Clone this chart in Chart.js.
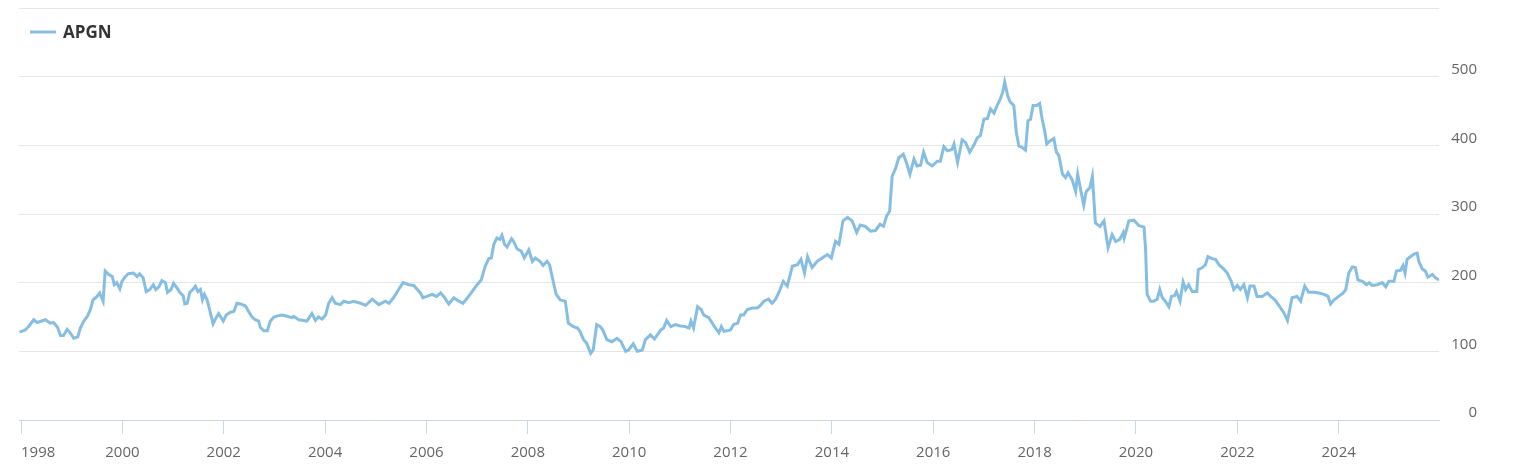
<!DOCTYPE html>
<html>
<head>
<meta charset="utf-8">
<script src="https://cdn.jsdelivr.net/npm/chart.js@4"></script>
<style>
  html, body { margin: 0; padding: 0; background: #fff; }
  #wrap { width: 1518px; height: 475px; position: relative; }
</style>
</head>
<body>
<div id="wrap"><canvas id="priceChart" width="1518" height="475"></canvas></div>
<script>
const seriesName = "APGN";
const yearTicks = [1998, 2000, 2002, 2004, 2006, 2008, 2010, 2012, 2014, 2016, 2018, 2020, 2022, 2024];

// decimal year of each reading
const dates = [
  1997.97, 1998.08, 1998.15, 1998.25, 1998.32, 1998.48, 1998.58, 1998.64, 1998.72, 1998.78, 1998.84, 1998.91, 1998.97,
  1999.04, 1999.12, 1999.17, 1999.24, 1999.31, 1999.37, 1999.42, 1999.50, 1999.55, 1999.62, 1999.66, 1999.73, 1999.80, 1999.84, 1999.89, 1999.95, 1999.99,
  2000.06, 2000.12, 2000.22, 2000.29, 2000.34, 2000.41, 2000.47, 2000.54, 2000.61, 2000.66, 2000.72, 2000.78, 2000.85, 2000.89, 2000.96,
  2001.01, 2001.08, 2001.14, 2001.20, 2001.23, 2001.28, 2001.33, 2001.39, 2001.44, 2001.49, 2001.54, 2001.58, 2001.62, 2001.67, 2001.72, 2001.79, 2001.85, 2001.90, 2001.99,
  2002.05, 2002.13, 2002.20, 2002.26, 2002.33, 2002.43, 2002.49, 2002.56, 2002.62, 2002.69, 2002.72, 2002.79, 2002.86, 2002.92, 2002.99,
  2003.08, 2003.15, 2003.25, 2003.35, 2003.38, 2003.48, 2003.58, 2003.64, 2003.74, 2003.81, 2003.87, 2003.94,
  2004.01, 2004.07, 2004.14, 2004.20, 2004.30, 2004.37, 2004.47, 2004.56, 2004.70, 2004.80, 2004.93,
  2005.06, 2005.19, 2005.26, 2005.35, 2005.45, 2005.54, 2005.65, 2005.75, 2005.82, 2005.88, 2005.93,
  2006.01, 2006.11, 2006.20, 2006.28, 2006.34, 2006.44, 2006.54, 2006.64, 2006.72, 2006.81, 2006.90,
  2007.00, 2007.08, 2007.16, 2007.23, 2007.28, 2007.33, 2007.39, 2007.45, 2007.49, 2007.54, 2007.59, 2007.68, 2007.72, 2007.79, 2007.87, 2007.93,
  2008.02, 2008.09, 2008.15, 2008.24, 2008.30, 2008.38, 2008.43, 2008.50, 2008.56, 2008.64, 2008.74, 2008.80, 2008.90, 2008.98,
  2009.03, 2009.10, 2009.16, 2009.24, 2009.29, 2009.36, 2009.43, 2009.48, 2009.56, 2009.66, 2009.76, 2009.84, 2009.93, 2009.99,
  2010.08, 2010.16, 2010.26, 2010.32, 2010.42, 2010.50, 2010.62, 2010.68, 2010.74, 2010.82, 2010.91,
  2011.01, 2011.11, 2011.18, 2011.22, 2011.27, 2011.35, 2011.42, 2011.47, 2011.57, 2011.64, 2011.70, 2011.77, 2011.82, 2011.87,
  2012.00, 2012.06, 2012.14, 2012.20, 2012.26, 2012.33, 2012.43, 2012.53, 2012.59, 2012.66, 2012.75, 2012.82, 2012.89, 2012.95,
  2013.04, 2013.12, 2013.22, 2013.32, 2013.39, 2013.46, 2013.52, 2013.61, 2013.71, 2013.81, 2013.91, 2013.99,
  2014.07, 2014.14, 2014.22, 2014.31, 2014.40, 2014.49, 2014.56, 2014.66, 2014.76, 2014.86, 2014.95,
  2015.02, 2015.08, 2015.14, 2015.19, 2015.26, 2015.32, 2015.41, 2015.47, 2015.54, 2015.62, 2015.68, 2015.75, 2015.81, 2015.88, 2015.98,
  2016.08, 2016.14, 2016.21, 2016.28, 2016.37, 2016.41, 2016.48, 2016.57, 2016.64, 2016.72, 2016.80, 2016.87, 2016.93,
  2017.00, 2017.07, 2017.13, 2017.20, 2017.26, 2017.31, 2017.37, 2017.41, 2017.47, 2017.52, 2017.59, 2017.64, 2017.69, 2017.75, 2017.82, 2017.87, 2017.92, 2017.97,
  2018.04, 2018.10, 2018.15, 2018.20, 2018.24, 2018.30, 2018.38, 2018.43, 2018.48, 2018.55, 2018.61, 2018.66, 2018.74, 2018.81, 2018.85, 2018.92, 2018.97,
  2019.02, 2019.09, 2019.14, 2019.20, 2019.29, 2019.37, 2019.45, 2019.53, 2019.60, 2019.68, 2019.75, 2019.77, 2019.86, 2019.96,
  2020.06, 2020.16, 2020.19, 2020.22, 2020.29, 2020.35, 2020.42, 2020.47, 2020.52, 2020.58, 2020.65, 2020.70, 2020.76, 2020.80, 2020.87, 2020.93, 2020.98,
  2021.04, 2021.11, 2021.20, 2021.23, 2021.31, 2021.37, 2021.42, 2021.50, 2021.57, 2021.65, 2021.73, 2021.80, 2021.88, 2021.93,
  2022.00, 2022.06, 2022.13, 2022.20, 2022.25, 2022.33, 2022.39, 2022.49, 2022.59, 2022.66, 2022.74, 2022.82, 2022.92, 2022.99,
  2023.04, 2023.08, 2023.18, 2023.25, 2023.33, 2023.41, 2023.51, 2023.61, 2023.71, 2023.79, 2023.84, 2023.91,
  2024.00, 2024.09, 2024.14, 2024.20, 2024.27, 2024.33, 2024.38, 2024.47, 2024.55, 2024.60, 2024.66, 2024.76, 2024.86, 2024.93, 2024.99,
  2025.09, 2025.14, 2025.22, 2025.27, 2025.31, 2025.35, 2025.42, 2025.50, 2025.55, 2025.58, 2025.65, 2025.71, 2025.76, 2025.85, 2025.91, 2025.98
];

const prices = [
  128, 131, 136, 146, 142, 146, 141, 142, 135, 123, 123, 132, 127,
  119, 121, 134, 144, 151, 161, 175, 180, 185, 173, 217, 212, 209, 197, 200, 191, 202,
  209, 213, 214, 209, 213, 207, 187, 190, 197, 190, 194, 203, 200, 186, 190,
  199, 192, 185, 181, 169, 170, 186, 190, 195, 187, 190, 175, 183, 175, 161, 140, 149, 155, 144,
  153, 157, 158, 170, 169, 166, 158, 150, 146, 144, 135, 130, 130, 144, 150,
  152, 153, 151, 149, 151, 146, 145, 144, 155, 145, 150, 147,
  153, 170, 178, 170, 168, 173, 171, 173, 170, 167, 176,
  168, 173, 170, 178, 190, 200, 197, 196, 190, 185, 178,
  180, 183, 180, 185, 180, 169, 178, 173, 170, 178, 187,
  197, 204, 224, 235, 236, 256, 265, 263, 269, 256, 252, 264, 260, 249, 246, 236,
  248, 231, 236, 231, 225, 231, 226, 202, 183, 175, 173, 141, 136, 134,
  129, 117, 112, 97, 102, 139, 136, 131, 117, 114, 119, 114, 100, 102,
  111, 100, 102, 117, 124, 118, 131, 134, 145, 136, 139,
  137, 136, 134, 144, 134, 165, 161, 153, 149, 141, 134, 127, 136, 129,
  131, 139, 141, 153, 153, 161, 163, 163, 167, 173, 176, 170, 176, 185,
  202, 195, 224, 226, 234, 214, 238, 222, 231, 236, 241, 236,
  260, 256, 290, 295, 290, 273, 284, 282, 275, 276, 285,
  282, 297, 304, 355, 367, 382, 387, 375, 358, 380, 370, 371, 390, 375, 370,
  377, 377, 398, 392, 394, 402, 375, 408, 404, 390, 400, 411, 414,
  438, 439, 453, 447, 458, 465, 477, 492, 472, 463, 458, 419, 399, 397, 393, 436, 438, 458,
  458, 461, 438, 421, 402, 406, 410, 390, 385, 358, 353, 360, 350, 333, 358, 331, 313,
  333, 338, 355, 287, 282, 290, 251, 270, 260, 263, 273, 265, 290, 291,
  283, 281, 248, 183, 173, 173, 176, 190, 178, 173, 165, 180, 181, 187, 173, 201, 190,
  197, 187, 187, 219, 222, 226, 238, 235, 234, 225, 220, 214, 202, 190,
  196, 190, 197, 178, 195, 195, 180, 180, 185, 180, 175, 167, 156, 145,
  163, 178, 180, 173, 195, 186, 186, 185, 183, 180, 169, 175,
  180, 185, 190, 214, 223, 222, 204, 202, 197, 200, 196, 197, 200, 194, 202,
  202, 217, 218, 225, 214, 234, 238, 242, 243, 231, 220, 217, 208, 212, 207, 204
];

const points = dates.map((d, i) => ({ x: d, y: prices[i] }));

Chart.defaults.font.family = '"Open Sans", sans-serif';
Chart.defaults.color = "#666666";

// legend sits inside the plot, top left
const floatLegend = {
    id: "floatLegend",
    afterDraw(chart) {
        const ctx = chart.ctx;
        ctx.save();
        ctx.strokeStyle = "#86bee3";
        ctx.lineWidth = 3;
        ctx.beginPath();
        ctx.moveTo(30, 32);
        ctx.lineTo(56, 32);
        ctx.stroke();
        ctx.fillStyle = "#333333";
        ctx.font = 'bold 17px "Open Sans", sans-serif';
        ctx.textBaseline = "alphabetic";
        ctx.fillText(seriesName, 63, 38);
        ctx.restore();
    }
};

// first year label starts at its tick instead of centering on it
const firstLabelLeft = {
    id: "firstLabelLeft",
    beforeDraw(chart) {
        const items = chart.scales.x.getLabelItems();
        if (items.length) items[0].options.textAlign = "left";
    }
};

new Chart(document.getElementById("priceChart").getContext("2d"), {
    type: "line",
    data: {
        datasets: [{
            label: seriesName,
            data: points,
            borderColor: "#86bee3",
            borderWidth: 3,
            pointRadius: 0,
            tension: 0,
            fill: false,
        }],
    },
    options: {
        responsive: false,
        animation: false,
        layout: { padding: { top: 8, left: 19, right: 41, bottom: 0 } },
        plugins: {
            legend: { display: false },
            tooltip: { enabled: false },
        },
        scales: {
            x: {
                type: "linear",
                min: 1997.96,
                max: 2025.98,
                afterBuildTicks: scale => { scale.ticks = yearTicks.map(v => ({ value: v })); },
                afterFit: scale => {
                    scale.height = 55;
                    scale.paddingLeft = 0;
                    scale.paddingRight = 0;
                },
                grid: { drawOnChartArea: false, drawTicks: true, tickLength: 14, color: "#ccd6eb" },
                border: { color: "#ccd6eb" },
                ticks: {
                    autoSkip: false,
                    maxRotation: 0,
                    padding: 10,
                    color: "#666666",
                    font: { size: 15 },
                    callback: v => String(v),
                },
            },
            y: {
                position: "right",
                min: 0,
                max: 600,
                afterFit: scale => {
                    scale.width = 38;
                    scale.paddingTop = 0;
                    scale.paddingBottom = 0;
                },
                grid: { color: "#e6e6e6", drawTicks: false },
                border: { display: false },
                ticks: {
                    stepSize: 100,
                    padding: 12,
                    crossAlign: "far",
                    labelOffset: -7,
                    color: "#666666",
                    font: { size: 15 },
                    callback: v => (v === 600 ? "" : String(v)),
                },
            },
        },
    },
    plugins: [floatLegend, firstLabelLeft],
});
</script>
</body>
</html>
